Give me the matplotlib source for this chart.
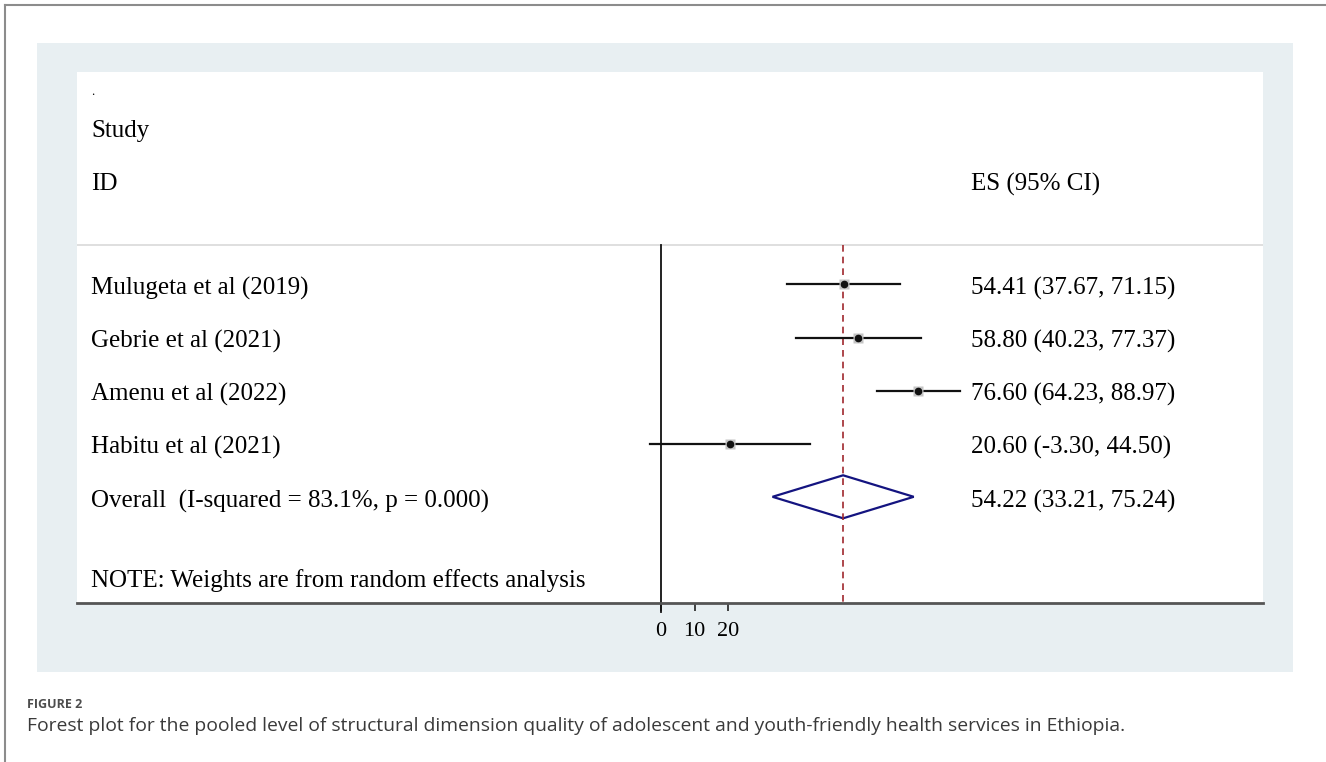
import matplotlib as mpl
import matplotlib.pyplot as plt
from matplotlib.patches import Rectangle, Polygon

mpl.rcParams['font.family'] = 'Liberation Serif'

# study-level estimates (ES with 95% CI)
studies = ['Mulugeta et al (2019)', 'Gebrie et al (2021)', 'Amenu et al (2022)', 'Habitu et al (2021)']
es = [54.41, 58.80, 76.60, 20.60]
ci_lo = [37.67, 40.23, 64.23, -3.30]
ci_hi = [71.15, 77.37, 88.97, 44.50]

overall_label = 'Overall  (I-squared = 83.1%, p = 0.000)'
overall_es, overall_lo, overall_hi = 54.22, 33.21, 75.24
note = 'NOTE: Weights are from random effects analysis'
xticks = [0, 10, 20]

W, H = 1326, 762
FS = 18
fig = plt.figure(figsize=(W / 100, H / 100), dpi=100)


def box(x0, y0, x1, y1):
    # pixel box (top-left origin) -> figure fraction
    return x0 / W, 1 - y1 / H, (x1 - x0) / W, (y1 - y0) / H


# page frame + light panel
fig.add_artist(plt.Line2D([5 / W, 5 / W], [0, 1 - 5 / H], color='#8c8c8c', lw=1.5, zorder=-2))
fig.add_artist(plt.Line2D([5 / W, 1], [1 - 5 / H, 1 - 5 / H], color='#8c8c8c', lw=1.5, zorder=-2))
l, b, w, h = box(37, 43, 1293, 672)
fig.add_artist(Rectangle((l, b), w, h, transform=fig.transFigure, color='#e8eff2', lw=0, zorder=-2))

ax = fig.add_axes(box(77, 72, 1263, 603))
ax.set_facecolor('white')
ax.set_xlim(-173.8, 179.2)
ax.set_ylim(10.0, 0)

rows = list(range(4, 4 + len(studies)))
y_overall = rows[-1] + 1
y_sep = 3.25
dy = 0.08  # nudge text so it sits level with the CI lines

for sp in ['top', 'left', 'right']:
    ax.spines[sp].set_visible(False)
ax.spines['bottom'].set_color('#555555')
ax.spines['bottom'].set_linewidth(2)
ax.set_yticks([])
ax.set_xticks(xticks, labels=[str(t) for t in xticks], fontsize=16)
ax.tick_params(axis='x', direction='out', length=6, width=1.2, color='#222222', pad=8)

# header
ax.axhline(y_sep, color='#d9d9d9', lw=1.2)
txt_x = -169.5
es_x = 92.3
ax.text(txt_x, 0.38, '.', fontsize=9, va='center')
ax.text(txt_x, 1.03 + dy, 'Study', fontsize=FS, va='center')
ax.text(txt_x, 2.03 + dy, 'ID', fontsize=FS, va='center')
ax.text(es_x, 2.03 + dy, 'ES (95% CI)', fontsize=FS, va='center')

# null line and overall line
ax.plot([0, 0], [y_sep, 10.17], color='#111111', lw=1.3, clip_on=False)
ax.plot([overall_es, overall_es], [y_sep, 10.0], color='#a0282d', lw=1.2, ls=(0, (4, 3)))

for y, name, e, lo, hi in zip(rows, studies, es, ci_lo, ci_hi):
    ax.plot([lo, hi], [y, y], color='#111111', lw=1.6)
    ax.plot(e, y, marker='s', ms=7.5, color='#c4c4c4', mec='none')
    ax.plot(e, y, marker='o', ms=4.5, color='#111111')
    ax.text(txt_x, y + dy, name, fontsize=FS, va='center')
    ax.text(es_x, y + dy, f'{e:.2f} ({lo:.2f}, {hi:.2f})', fontsize=FS, va='center')

dh = 0.405
ax.add_patch(Polygon([(overall_lo, y_overall), (overall_es, y_overall - dh),
                      (overall_hi, y_overall), (overall_es, y_overall + dh)],
                     closed=True, fill=False, ec='#141480', lw=1.6))
ax.text(txt_x, y_overall + dy, overall_label, fontsize=FS, va='center')
ax.text(es_x, y_overall + dy, f'{overall_es:.2f} ({overall_lo:.2f}, {overall_hi:.2f})', fontsize=FS, va='center')
ax.text(txt_x, 9.53 + dy / 2, note, fontsize=FS, va='center')

# caption
fig.text(27 / W, 1 - 705 / H, 'FIGURE 2', family='Open Sans', fontsize=9, color='#4d4d4d',
         fontweight='bold', va='center')
fig.text(27 / W, 1 - 726 / H,
         'Forest plot for the pooled level of structural dimension quality of adolescent and youth-friendly health services in Ethiopia.',
         family='Open Sans', fontsize=13.9, color='#3a3a3a', va='center')

fig.savefig('out.png', dpi=100)
